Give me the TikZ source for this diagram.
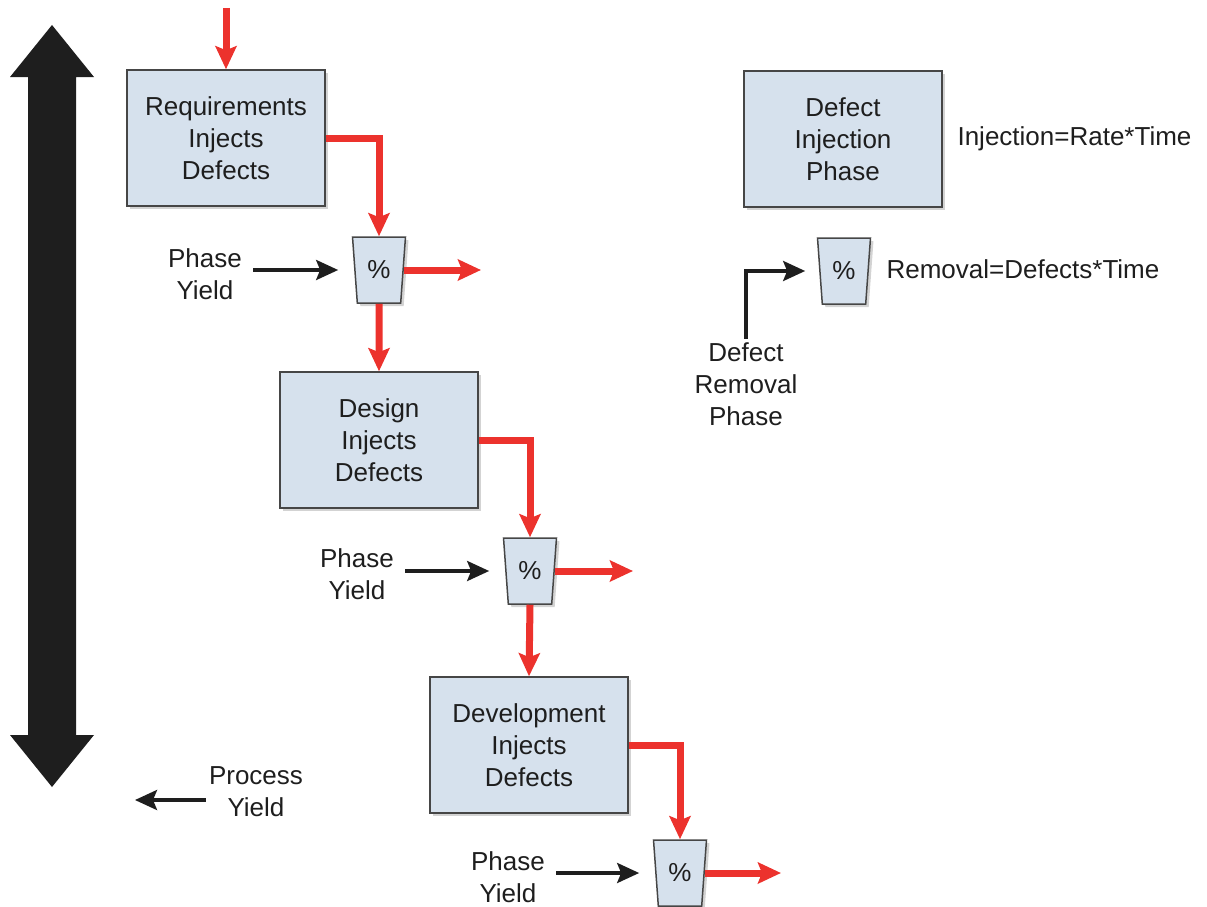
\documentclass[tikz,border=0pt]{standalone}
\usepackage{fontspec}
\setmainfont{Liberation Sans}
\usetikzlibrary{shapes.geometric,arrows.meta,shadows,calc}
\definecolor{boxfill}{RGB}{214,225,237}
\definecolor{boxline}{RGB}{70,70,70}
\definecolor{flowred}{RGB}{236,50,45}
\definecolor{inkc}{RGB}{30,30,30}
\begin{document}
\begin{tikzpicture}[x=1pt,y=-1pt,
 txt/.style={font=\fontsize{26}{32}\selectfont, align=center, text=inkc},
 phasebox/.style={txt, draw=boxline, line width=1.5pt, fill=boxfill, minimum width=198pt, minimum height=136pt,
   drop shadow={shadow xshift=3pt,shadow yshift=-3pt,opacity=0.35}},
 yieldcup/.style={trapezium, trapezium stretches=true, shape border rotate=180, trapezium angle=82,
   minimum width=53pt, minimum height=66pt, draw=boxline, line width=1.5pt, fill=boxfill, inner sep=0pt,
   font=\fontsize{26}{30}\selectfont, text=inkc,
   drop shadow={shadow xshift=3pt,shadow yshift=-3pt,opacity=0.35}},
 redflow/.style={draw=flowred, line width=7pt, -{Stealth[length=23pt,width=21pt,inset=4pt]}},
 blackflow/.style={draw=inkc, line width=3.5pt, -{Stealth[length=22pt,width=20pt,inset=4pt]}},
]
\useasboundingbox (0,0) rectangle (1207,907);

% big double arrow
\fill[inkc] (52,25) -- (94,77) -- (76,77) -- (76,735) -- (94,735) -- (52,787) -- (10,735) -- (28,735) -- (28,77) -- (10,77) -- cycle;

% boxes and cups
\node[phasebox] (req) at (226,138) {Requirements\\Injects\\Defects};
\node[yieldcup] (t1) at (379,270) {\%};
\node[phasebox] (design) at (379,440) {Design\\Injects\\Defects};
\node[yieldcup] (t2) at (530,571) {\%};
\node[phasebox] (dev) at (529,745) {Development\\Injects\\Defects};
\node[yieldcup] (t3) at (680,873) {\%};
\node[phasebox] (legbox) at (843,139) {Defect\\Injection\\Phase};
\node[yieldcup] (t4) at (844,271) {\%};

% labels
\node[txt] (py1) at (205,274) {Phase\\Yield};
\node[txt] (py2) at (357,574) {Phase\\Yield};
\node[txt] (py3) at (508,877) {Phase\\Yield};
\node[txt] (pyd) at (256,792) {Process\\Yield};
\node[txt] (drp) at (746,384) {Defect\\Removal\\Phase};
\node[txt, anchor=west] (inj) at (954,139) {Injection=Rate*Time};
\node[txt, anchor=west] (rem) at (883,269) {Removal=Defects*Time};

% free ends
\coordinate (topin) at (225,8);
\coordinate (o1) at (481,0);
\coordinate (o2) at (633,0);
\coordinate (o3) at (781,0);
\coordinate (pend) at (135,800);

% red flows
\draw[redflow] (req.north |- topin) -- (req.north);
\draw[redflow] (req.east) -| (t1.north);
\draw[redflow] (t1.east) -- (t1.east -| o1);
\draw[redflow] (t1.south) -- (design.north);
\draw[redflow] (design.east) -| (t2.north);
\draw[redflow] (t2.east) -- (t2.east -| o2);
\draw[redflow] (t2.south) -- (dev.north);
\draw[redflow] (dev.east) -| (t3.north);
\draw[redflow] (t3.east) -- (t3.east -| o3);

% black arrows
\draw[blackflow, shorten <=8pt, shorten >=16pt] (py1.east |- t1.west) -- (t1.west);
\draw[blackflow, shorten <=8pt, shorten >=16pt] (py2.east |- t2.west) -- (t2.west);
\draw[blackflow, shorten <=8pt, shorten >=16pt] (py3.east |- t3.west) -- (t3.west);
\draw[blackflow] (pyd.west |- pend) -- (pend);
\draw[blackflow, shorten >=14pt] (drp.north) |- (t4.west);
\end{tikzpicture}
\end{document}
